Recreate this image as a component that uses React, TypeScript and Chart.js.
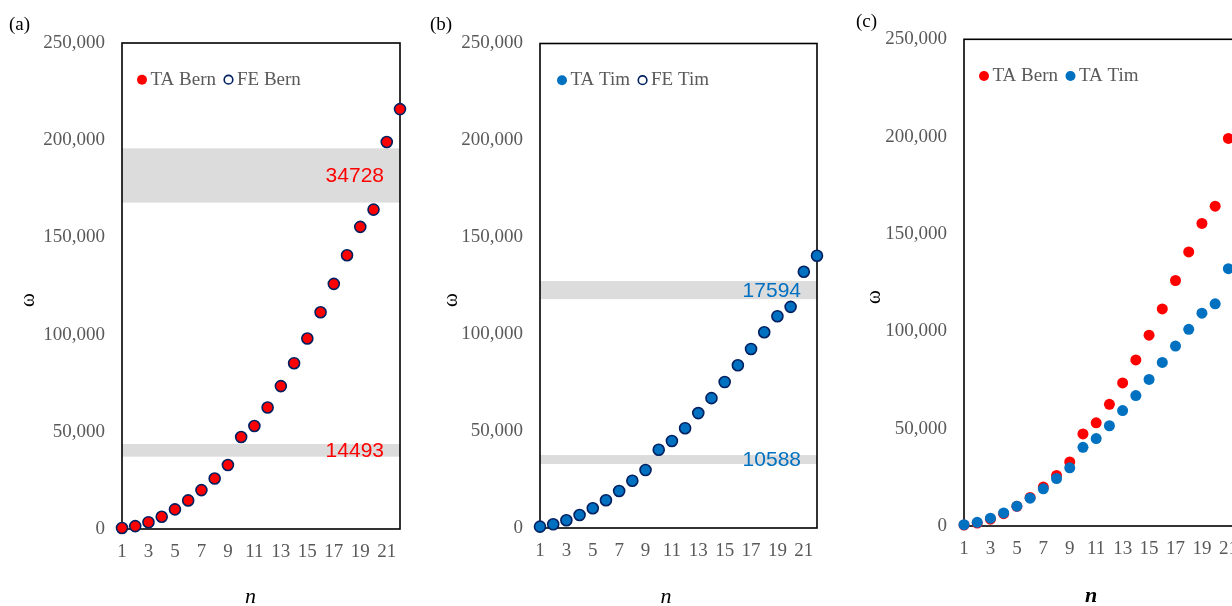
import React, { useEffect, useRef } from "react";
import { Chart, registerables } from "chart.js";

Chart.register(...registerables);

// ---------- data ----------
const nValues = [1, 2, 3, 4, 5, 6, 7, 8, 9, 10, 11, 12, 13, 14, 15, 16, 17, 18, 19, 20, 21, 22];
const yTickValues = [0, 50000, 100000, 150000, 200000, 250000];

const taBern = [500, 1500, 3500, 6300, 10100, 14700, 20000, 26000, 32900, 47300, 53000, 62500, 73500, 85300, 98000, 111500, 126100, 140800, 155400, 164300, 199100, 216000];
const feBern = [500, 1500, 3500, 6300, 10100, 14700, 20000, 26000, 32900, 47300, 53000, 62500, 73500, 85300, 98000, 111500, 126100, 140800, 155400, 164300, 199100, 216000];
const taTim = [700, 1900, 4000, 6700, 10200, 14300, 19100, 24400, 29900, 40400, 44900, 51500, 59300, 67000, 75300, 84000, 92400, 101000, 109300, 114100, 132200, 140500];
const feTim = [700, 1900, 4000, 6700, 10200, 14300, 19100, 24400, 29900, 40400, 44900, 51500, 59300, 67000, 75300, 84000, 92400, 101000, 109300, 114100, 132200, 140500];

const bernBandLow = [167900, 37200];
const bernBandHigh = [195800, 43700];
const bernBandLabels = ["34728", "14493"];
const timBandLow = [118100, 33000];
const timBandHigh = [127400, 37650];
const timBandLabels = ["17594", "10588"];

// ---------- styles ----------
const RED = "#FF0000";
const BLUE = "#0070C0";
const NAVY = "#002060";
const GRAY_TXT = "#595959";
const SERIF = '"Liberation Serif", "Times New Roman", serif';
const W = 420;
const H = 606;

type Band = { low: number; high: number; label: string; color: string };
type Panel = {
  pageLeft: number;
  chartLeft: number;
  chartRight: number;
  chartTop: number;
  chartBottom: number;
  label: string;
  labelX: number;
  labelY: number;
  yTitleX: number;
  yTitleY: number;
  xTitleX: number;
  xTitleY: number;
  xTitleBold: boolean;
  legendDX: number;
  legendDY: number;
  datasets: any[];
  bands: Band[];
};

const mkBands = (low: number[], high: number[], labels: string[], color: string): Band[] =>
  low.map((l, i) => ({ low: l, high: high[i], label: labels[i], color }));

const filled = (label: string, data: number[], color: string, order: number) => ({
  label,
  data,
  showLine: false,
  pointRadius: 5.5,
  pointHoverRadius: 5.5,
  pointBackgroundColor: color,
  pointBorderWidth: 0,
  pointBorderColor: color,
  backgroundColor: color,
  borderColor: color,
  borderWidth: 0,
  order,
  clip: false,
  _legendFill: color,
  _legendStroke: null,
});

const hollow = (label: string, data: number[], color: string, order: number) => ({
  label,
  data,
  showLine: false,
  pointRadius: 5.5,
  pointHoverRadius: 5.5,
  pointBackgroundColor: "rgba(0,0,0,0)",
  pointBorderWidth: 1.6,
  pointBorderColor: color,
  backgroundColor: "rgba(0,0,0,0)",
  borderColor: color,
  borderWidth: 1.6,
  order,
  clip: false,
  _legendFill: null,
  _legendStroke: color,
});

const panels: Panel[] = [
  {
    pageLeft: 0,
    chartLeft: 122,
    chartRight: 400,
    chartTop: 43,
    chartBottom: 529,
    label: "(a)",
    labelX: 9,
    labelY: 25,
    yTitleX: 28.5,
    yTitleY: 300,
    xTitleX: 250.5,
    xTitleY: 597,
    xTitleBold: false,
    legendDX: 20,
    legendDY: 36.7,
    datasets: [filled("TA Bern", taBern, RED, 1), hollow("FE Bern", feBern, NAVY, 0)],
    bands: mkBands(bernBandLow, bernBandHigh, bernBandLabels, RED),
  },
  {
    pageLeft: 420,
    chartLeft: 120,
    chartRight: 397,
    chartTop: 43.5,
    chartBottom: 528,
    label: "(b)",
    labelX: 10,
    labelY: 25,
    yTitleX: 31,
    yTitleY: 300,
    xTitleX: 246,
    xTitleY: 597,
    xTitleBold: false,
    legendDX: 22,
    legendDY: 36.7,
    datasets: [filled("TA Tim", taTim, BLUE, 1), hollow("FE Tim", feTim, NAVY, 0)],
    bands: mkBands(timBandLow, timBandHigh, timBandLabels, BLUE),
  },
  {
    pageLeft: 840,
    chartLeft: 124,
    chartRight: 401.6,
    chartTop: 39.3,
    chartBottom: 526,
    label: "(c)",
    labelX: 16,
    labelY: 22,
    yTitleX: 34,
    yTitleY: 297,
    xTitleX: 251,
    xTitleY: 596,
    xTitleBold: true,
    legendDX: 20,
    legendDY: 36.7,
    datasets: [filled("TA Bern", taBern, RED, 1), filled("TA Tim", taTim, BLUE, 0)],
    bands: [],
  },
];

function makeDecor(p: Panel) {
  return {
    id: "decor",
    beforeDatasetsDraw(chart: any) {
      const { ctx, chartArea: a, scales } = chart;
      const y = scales.y;
      ctx.save();
      // bands
      for (const b of p.bands) {
        const yt = y.getPixelForValue(b.high);
        const yb = y.getPixelForValue(b.low);
        ctx.fillStyle = "#DCDCDC";
        ctx.fillRect(a.left, yt, a.right - a.left, yb - yt);
      }
      // frame
      ctx.strokeStyle = "#000";
      ctx.lineWidth = 1.6;
      ctx.strokeRect(a.left, a.top, a.right - a.left, a.bottom - a.top);
      // band labels
      ctx.font = '21px "Liberation Sans", Arial, sans-serif';
      ctx.textAlign = "right";
      ctx.textBaseline = "middle";
      for (const b of p.bands) {
        ctx.fillStyle = b.color;
        ctx.fillText(b.label, a.right - 16, y.getPixelForValue((b.low + b.high) / 2) + 1);
      }
      // panel label
      ctx.fillStyle = "#000";
      ctx.textAlign = "left";
      ctx.font = `19px ${SERIF}`;
      ctx.fillText(p.label, p.labelX, p.labelY);
      // x title
      ctx.textAlign = "center";
      ctx.font = `italic ${p.xTitleBold ? "bold " : ""}22px ${SERIF}`;
      ctx.fillText("n", p.xTitleX, p.xTitleY);
      // y title
      ctx.save();
      ctx.translate(p.yTitleX, p.yTitleY);
      ctx.rotate(-Math.PI / 2);
      ctx.font = `21px ${SERIF}`;
      ctx.textAlign = "center";
      ctx.fillText("ω", 0, 0);
      ctx.restore();
      ctx.restore();
    },
    afterDatasetsDraw(chart: any) {
      const { ctx, chartArea: a } = chart;
      ctx.save();
      ctx.font = `19px ${SERIF}`;
      ctx.textBaseline = "middle";
      ctx.textAlign = "left";
      let x = a.left + p.legendDX;
      const yy = a.top + p.legendDY;
      for (const ds of chart.data.datasets) {
        ctx.beginPath();
        if (ds._legendFill) {
          ctx.arc(x, yy, 5, 0, Math.PI * 2);
          ctx.fillStyle = ds._legendFill;
          ctx.fill();
        } else {
          ctx.arc(x, yy, 4.3, 0, Math.PI * 2);
          ctx.strokeStyle = ds._legendStroke;
          ctx.lineWidth = 1.6;
          ctx.stroke();
        }
        ctx.fillStyle = GRAY_TXT;
        ctx.fillText(ds.label, x + 8.5, yy);
        x += 8.5 + ctx.measureText(ds.label).width + 12.5;
      }
      ctx.restore();
    },
  };
}

function PanelChart({ p }: { p: Panel }) {
  const ref = useRef<HTMLCanvasElement | null>(null);
  useEffect(() => {
    if (!ref.current) return;
    const chart = new Chart(ref.current, {
      type: "line",
      data: {
        labels: nValues.map(String),
        datasets: p.datasets,
      },
      options: {
        animation: false,
        responsive: false,
        devicePixelRatio: 1,
        events: [],
        layout: {
          padding: { top: p.chartTop, right: W - p.chartRight, left: 0, bottom: 0 },
        },
        plugins: {
          legend: { display: false },
          tooltip: { enabled: false },
          title: { display: false },
        },
        scales: {
          x: {
            type: "category",
            offset: false,
            grid: { display: false, drawTicks: false },
            border: { display: false },
            ticks: {
              autoSkip: false,
              maxRotation: 0,
              minRotation: 0,
              padding: 12,
              color: GRAY_TXT,
              font: { family: SERIF, size: 19 },
              callback: (_v: any, i: number) => (i % 2 === 0 ? String(nValues[i]) : ""),
            },
            afterFit: (s: any) => {
              s.height = H - p.chartBottom;
            },
          },
          y: {
            type: "linear",
            min: 0,
            max: 250000,
            grid: { display: false, drawTicks: false },
            border: { display: false },
            afterBuildTicks: (s: any) => {
              s.ticks = yTickValues.map((v) => ({ value: v }));
            },
            ticks: {
              padding: 17,
              color: GRAY_TXT,
              font: { family: SERIF, size: 19 },
              callback: (v: any) => Number(v).toLocaleString("en-US"),
            },
            afterFit: (s: any) => {
              s.width = p.chartLeft;
            },
          },
        },
      },
      plugins: [makeDecor(p)],
    } as any);
    return () => chart.destroy();
  }, [p]);
  return (
    <canvas
      ref={ref}
      width={W}
      height={H}
      style={{ position: "absolute", left: p.pageLeft, top: 0, width: W, height: H, display: "block" }}
    />
  );
}

export default function App() {
  return (
    <div
      style={{
        position: "fixed",
        left: 0,
        top: 0,
        width: 1232,
        height: 606,
        overflow: "hidden",
        background: "#fff",
      }}
    >
      {panels.map((p, i) => (
        <PanelChart key={i} p={p} />
      ))}
    </div>
  );
}
